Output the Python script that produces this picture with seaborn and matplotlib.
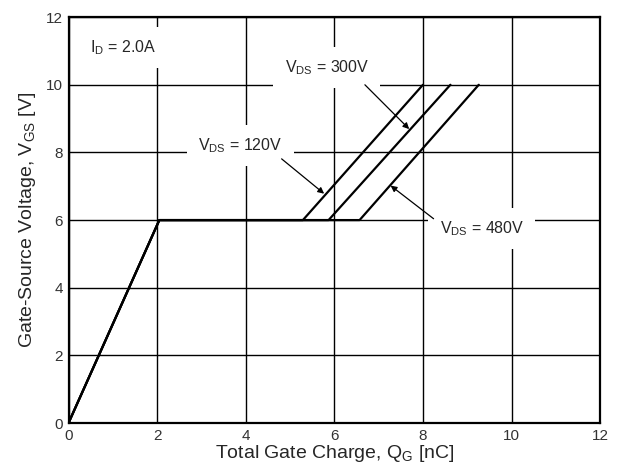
"""
Gate charge characteristic: V_GS vs Q_G for three drain voltages.
"""

import pandas as pd
import numpy as np
import matplotlib
matplotlib.use('Agg')
import matplotlib.pyplot as plt
import seaborn as sns
from matplotlib.ticker import MultipleLocator

# Values
vds_labels = ['120V', '300V', '480V']
q_start = [0.0, 0.0, 0.0]
q_knee = [2.05, 2.05, 2.05]
q_plateau_end = [5.29, 5.87, 6.57]
q_top = [8.0, 8.62, 9.26]
v_start = 0.0
v_plateau = 6.0
v_top = 10.0

x_ticks = [0, 2, 4, 6, 8, 10, 12]
y_ticks = [0, 2, 4, 6, 8, 10, 12]

rows = []
for lab, a, b, c, d in zip(vds_labels, q_start, q_knee, q_plateau_end, q_top):
    for q, v in zip([a, b, c, d], [v_start, v_plateau, v_plateau, v_top]):
        rows.append({'vds': lab, 'qg': q, 'vgs': v})
df = pd.DataFrame(rows)

sns.set_style("white")
plt.rcParams['font.family'] = ['Liberation Sans', 'DejaVu Sans']
plt.rcParams['mathtext.fontset'] = 'custom'
plt.rcParams['mathtext.rm'] = 'Liberation Sans'
plt.rcParams['mathtext.it'] = 'Liberation Sans'

fig = plt.figure(figsize=(6.2, 4.76), dpi=100)
ax = fig.add_axes([0.1105, 0.1113, 0.8575, 0.8527])

sns.lineplot(data=df, x='qg', y='vgs', units='vds', estimator=None,
             color='black', linewidth=1.6, sort=False, ax=ax, zorder=3)

ax.set_xlim(0, 12)
ax.set_ylim(0, 12)
ax.set_xticks(x_ticks)
ax.set_yticks(y_ticks)
ax.xaxis.set_minor_locator(MultipleLocator(1))
ax.yaxis.set_minor_locator(MultipleLocator(1))
ax.tick_params(which='both', direction='in', top=False, right=False,
               labelsize=11, colors='black', pad=4)
ax.tick_params(which='minor', length=4, width=1.3)
ax.tick_params(which='major', length=0)
for lab in ax.get_xticklabels() + ax.get_yticklabels():
    lab.set_color('#333333')
ax.grid(True, which='major', color='black', linewidth=1.0, zorder=1)
for s in ax.spines.values():
    s.set_color('black')
    s.set_linewidth(1.6)

ax.set_xlabel(r'Total Gate Charge, Q$_{\rm G}$ [nC]', fontsize=14, labelpad=0)
ax.set_ylabel(r'Gate-Source Voltage, V$_{\rm GS}$ [V]', fontsize=14, labelpad=6)

box = dict(facecolor='white', edgecolor='none', pad=8)
ax.text(0.48, 11.1, r'I$_{\rm D}$ = 2.0A', fontsize=11.5, va='center',
        ha='left', bbox=box, zorder=4)
ax.text(5.83, 10.5, r'V$_{\rm DS}$ = 300V', fontsize=11.5, va='center',
        ha='center', bbox=box, zorder=4)
ax.text(3.88, 8.2, r'V$_{\rm DS}$ = 120V', fontsize=11.5, va='center',
        ha='center', bbox=box, zorder=4)
ax.text(9.33, 5.75, r'V$_{\rm DS}$ = 480V', fontsize=11.5, va='center',
        ha='center', bbox=box, zorder=4)

arrow = dict(arrowstyle='-|>', color='black', lw=0.9,
             mutation_scale=9, shrinkA=0, shrinkB=0)
ax.annotate('', xy=(7.69, 8.69), xytext=(6.69, 10.0), arrowprops=arrow, zorder=5)
ax.annotate('', xy=(5.77, 6.78), xytext=(4.81, 7.81), arrowprops=arrow, zorder=5)
ax.annotate('', xy=(7.27, 7.02), xytext=(8.24, 6.04), arrowprops=arrow, zorder=5)

fig.savefig('out.png', dpi=100)
